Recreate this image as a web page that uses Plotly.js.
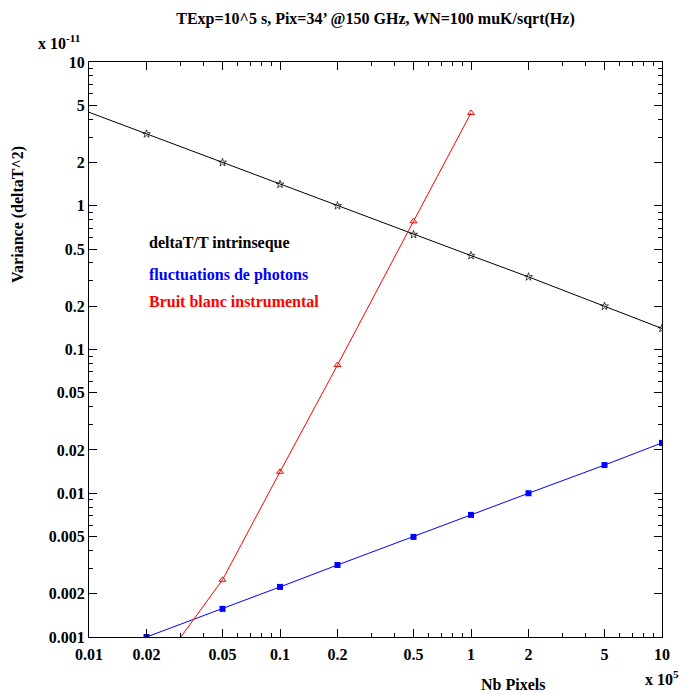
<!DOCTYPE html>
<html>
<head>
<meta charset="utf-8">
<script src="https://cdn.plot.ly/plotly-3.0.1.min.js"></script>
<style>body{margin:0;background:#fff}#chart{width:683px;height:694px}</style>
</head>
<body>
<div id="chart"></div>
<script>
// Nb Pixels (x 10^5)
const xBlack = [0.01, 0.02, 0.05, 0.1, 0.2, 0.5, 1, 2, 5, 10];
const yBlack = [4.47, 3.16, 2.0, 1.41, 1.0, 0.63, 0.45, 0.32, 0.2, 0.14];
const xBlue = [0.02, 0.05, 0.1, 0.2, 0.5, 1, 2, 5, 10];
const yBlue = [0.001, 0.00157, 0.00223, 0.00317, 0.00497, 0.00707, 0.01, 0.0157, 0.0224];
const xRed = [0.02, 0.05, 0.1, 0.2, 0.5, 1];
const yRed = [0.00047, 0.0025, 0.0141, 0.078, 0.78, 4.42];
const xTicks = [0.01, 0.02, 0.05, 0.1, 0.2, 0.5, 1, 2, 5, 10];
const xTickText = ['0.01', '0.02', '0.05', '0.1', '0.2', '0.5', '1', '2', '5', '10'];
const yTicks = [0.001, 0.002, 0.005, 0.01, 0.02, 0.05, 0.1, 0.2, 0.5, 1, 2, 5, 10];
const yTickText = ['0.001', '0.002', '0.005', '0.01', '0.02', '0.05', '0.1', '0.2', '0.5', '1', '2', '5', '10'];
const legendNames = ['deltaT/T intrinseque', 'fluctuations de photons', 'Bruit blanc instrumental'];
const colors = ['#000000', '#0000ff', '#ff0000'];

function minorVals(lo, hi) {
  const v = [];
  for (let e = lo; e < hi; e++) {
    for (let m = 1; m <= 9; m++) v.push(m * Math.pow(10, e));
  }
  v.push(Math.pow(10, hi));
  return v;
}

const F = 'Liberation Serif, Times New Roman, serif';
const FS = 16;
const traces = [
  {x: xBlack, y: yBlack, mode: 'lines+markers', name: legendNames[0],
   line: {color: colors[0], width: 1},
   marker: {symbol: 'star-open', size: xBlack.map((v, i) => i === 0 ? 0 : 6), color: colors[0], line: {width: 1}}},
  {x: xBlue, y: yBlue, mode: 'lines+markers', name: legendNames[1],
   line: {color: colors[1], width: 1},
   marker: {symbol: 'square', size: 6, color: colors[1]}},
  {x: xRed, y: yRed, mode: 'lines+markers', name: legendNames[2],
   line: {color: colors[2], width: 1},
   marker: {symbol: 'triangle-up-open', size: 6, color: colors[2], line: {width: 1}}}
];

const axisCommon = {
  type: 'log', showgrid: false, zeroline: false,
  showline: true, linecolor: '#000', linewidth: 1, mirror: 'ticks',
  ticks: 'inside', ticklen: 8, tickwidth: 1, tickcolor: '#000',
  tickmode: 'array',
  tickfont: {family: F, size: FS, color: '#000', weight: 'bold'}
};

const layout = {
  width: 683, height: 694,
  margin: {l: 89, r: 21, t: 62, b: 57},
  paper_bgcolor: '#fff', plot_bgcolor: '#fff',
  showlegend: false,
  font: {family: F, color: '#000'},
  title: {text: '<b>TExp=10^5 s, Pix=34’ @150 GHz, WN=100 muK/sqrt(Hz)</b>',
          font: {family: F, size: FS, color: '#000'},
          xref: 'paper', x: 0.5, xanchor: 'center', yref: 'container', y: 1 - 18/694, yanchor: 'middle'},
  xaxis: Object.assign({}, axisCommon, {
    range: [-2, 1], tickvals: xTicks, ticktext: xTickText, ticklabelstandoff: 3,
    minor: {tickmode: 'array', tickvals: minorVals(-2, 1), ticks: 'inside', ticklen: 4, tickcolor: '#000', tickwidth: 1}
  }),
  yaxis: Object.assign({}, axisCommon, {
    range: [-3, 1], tickvals: yTicks, ticktext: yTickText,
    minor: {tickmode: 'array', tickvals: minorVals(-3, 1), ticks: 'inside', ticklen: 4, tickcolor: '#000', tickwidth: 1}
  }),
  annotations: [
    {text: '<b>' + legendNames[0] + '</b>', xref: 'paper', yref: 'paper', x: (147-89)/573, y: (637-243)/575,
     xanchor: 'left', yanchor: 'middle', showarrow: false, font: {family: F, size: FS, color: colors[0]}},
    {text: '<b>' + legendNames[1] + '</b>', xref: 'paper', yref: 'paper', x: (147-89)/573, y: (637-275)/575,
     xanchor: 'left', yanchor: 'middle', showarrow: false, font: {family: F, size: FS, color: colors[1]}},
    {text: '<b>' + legendNames[2] + '</b>', xref: 'paper', yref: 'paper', x: (147-89)/573, y: (637-301)/575,
     xanchor: 'left', yanchor: 'middle', showarrow: false, font: {family: F, size: FS, color: colors[2]}},
    {text: '<b>x 10<sup>-11</sup></b>', xref: 'paper', yref: 'paper', x: (36-89)/573, y: (637-42)/575,
     xanchor: 'left', yanchor: 'middle', showarrow: false, font: {family: F, size: FS, color: '#000'}},
    {text: '<b>x 10<sup>5</sup></b>', xref: 'paper', yref: 'paper', x: (643-89)/573, y: (637-678)/575,
     xanchor: 'left', yanchor: 'middle', showarrow: false, font: {family: F, size: FS, color: '#000'}},
    {text: '<b>Nb Pixels</b>', xref: 'paper', yref: 'paper', x: (513-89)/573, y: (637-684)/575,
     xanchor: 'center', yanchor: 'middle', showarrow: false, font: {family: F, size: FS, color: '#000'}},
    {text: '<b>Variance (deltaT^2)</b>', xref: 'paper', yref: 'paper', x: (18-89)/573, y: (637-215)/575,
     xanchor: 'center', yanchor: 'middle', textangle: -90, showarrow: false, font: {family: F, size: FS, color: '#000'}}
  ]
};

Plotly.newPlot('chart', traces, layout, {displayModeBar: false, staticPlot: true});
</script>
</body>
</html>
